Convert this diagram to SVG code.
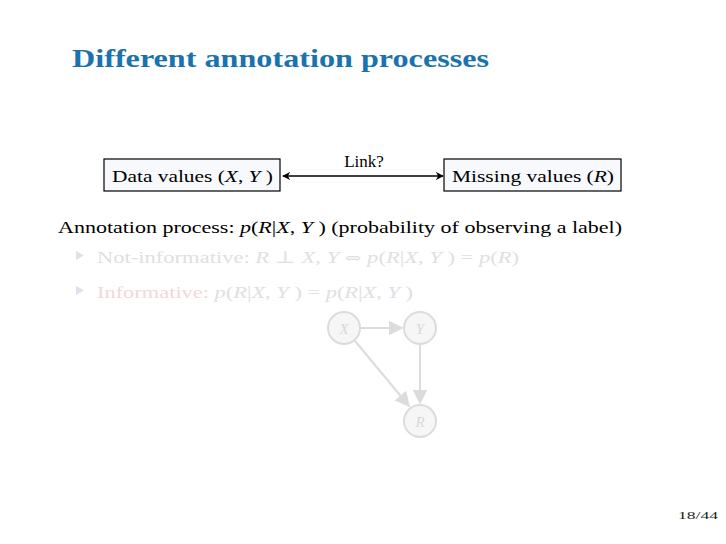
<svg xmlns="http://www.w3.org/2000/svg" width="726" height="544" viewBox="0 0 726 544">
<defs>
<style>
text{font-family:"Liberation Serif","DejaVu Serif",serif;}
.t{font-size:17px;fill:#000;}
.i{font-style:italic;}
.f{fill:#e0e0e0;}
.fr{fill:#f1d8d8;}
.box{fill:#f8f9fc;stroke:#000;stroke-width:1.2;}
.gn{fill:#f6f6f6;stroke:#dcdcdc;stroke-width:2;}
.ge{stroke:#dcdcdc;stroke-width:2;fill:none;marker-end:url(#ga);}
</style>
<marker id="ah" viewBox="0 0 10 10" refX="9" refY="5" markerWidth="8" markerHeight="8" markerUnits="userSpaceOnUse" orient="auto-start-reverse">
<path d="M0,0 L10,5 L0,10 L3,5 z" fill="#000"/>
</marker>
<marker id="ga" viewBox="0 0 10 10" refX="9" refY="5" markerWidth="15" markerHeight="15" markerUnits="userSpaceOnUse" orient="auto">
<path d="M0,0 L10,5 L0,10 z" fill="#dcdcdc"/>
</marker>
</defs>
<rect width="726" height="544" fill="#fff"/>
<text x="72" y="67" font-size="26" font-weight="bold" fill="#1a72ae" textLength="417" lengthAdjust="spacingAndGlyphs">Different annotation processes</text>

<g id="connectors">
<line x1="283" y1="176" x2="443" y2="176" stroke="#000" stroke-width="1.3" marker-start="url(#ah)" marker-end="url(#ah)"/>
<text x="364" y="167" class="t" text-anchor="middle">Link?</text>
<line x1="360" y1="328" x2="402" y2="328" class="ge"/>
<line x1="420" y1="345" x2="420" y2="403" class="ge"/>
<line x1="355" y1="341" x2="409" y2="406" class="ge"/>
</g>

<g id="node-data">
<rect x="104" y="159" width="176" height="32" class="box"/>
<text x="112" y="182" class="t" textLength="161" lengthAdjust="spacingAndGlyphs">Data values (<tspan class="i">X</tspan>, <tspan class="i">Y</tspan> )</text>
</g>
<g id="node-missing">
<rect x="444" y="159" width="177" height="32" class="box"/>
<text x="452" y="182" class="t" textLength="162" lengthAdjust="spacingAndGlyphs">Missing values (<tspan class="i">R</tspan>)</text>
</g>

<text x="58" y="233" class="t" textLength="564" lengthAdjust="spacingAndGlyphs">Annotation process: <tspan class="i">p</tspan>(<tspan class="i">R</tspan>|<tspan class="i">X</tspan>, <tspan class="i">Y</tspan> ) (probability of observing a label)</text>

<path d="M76,251 L84,255.5 L76,260 z" fill="#dde1ea"/>
<text x="97" y="263" class="t f" textLength="422" lengthAdjust="spacingAndGlyphs">Not-informative: <tspan class="i">R</tspan> ⊥ <tspan class="i">X</tspan>, <tspan class="i">Y</tspan> <tspan font-family="DejaVu Serif" font-size="15">⇔</tspan> <tspan class="i">p</tspan>(<tspan class="i">R</tspan>|<tspan class="i">X</tspan>, <tspan class="i">Y</tspan> ) = <tspan class="i">p</tspan>(<tspan class="i">R</tspan>)</text>

<path d="M76,286 L84,290.5 L76,295 z" fill="#dde1ea"/>
<text x="97" y="298" class="t f" textLength="316" lengthAdjust="spacingAndGlyphs"><tspan class="fr">Informative:</tspan> <tspan class="i">p</tspan>(<tspan class="i">R</tspan>|<tspan class="i">X</tspan>, <tspan class="i">Y</tspan> ) = <tspan class="i">p</tspan>(<tspan class="i">R</tspan>|<tspan class="i" fill="#e2dce8">X</tspan><tspan fill="#e2dce8">, </tspan><tspan class="i" fill="#e2dce8">Y</tspan> )</text>

<g id="node-X">
<circle cx="344" cy="328" r="16" class="gn"/>
<text x="344" y="334" font-size="15" class="i" fill="#d8d8d8" text-anchor="middle">X</text>
</g>
<g id="node-Y">
<circle cx="420" cy="328" r="16" class="gn"/>
<text x="420" y="334" font-size="15" class="i" fill="#d8d8d8" text-anchor="middle">Y</text>
</g>
<g id="node-R">
<circle cx="420" cy="421" r="16" class="gn"/>
<text x="420" y="427" font-size="15" class="i" fill="#d8d8d8" text-anchor="middle">R</text>
</g>

<text x="718" y="519" font-size="11" fill="#222" text-anchor="end" textLength="40" lengthAdjust="spacingAndGlyphs">18/44</text>
</svg>
